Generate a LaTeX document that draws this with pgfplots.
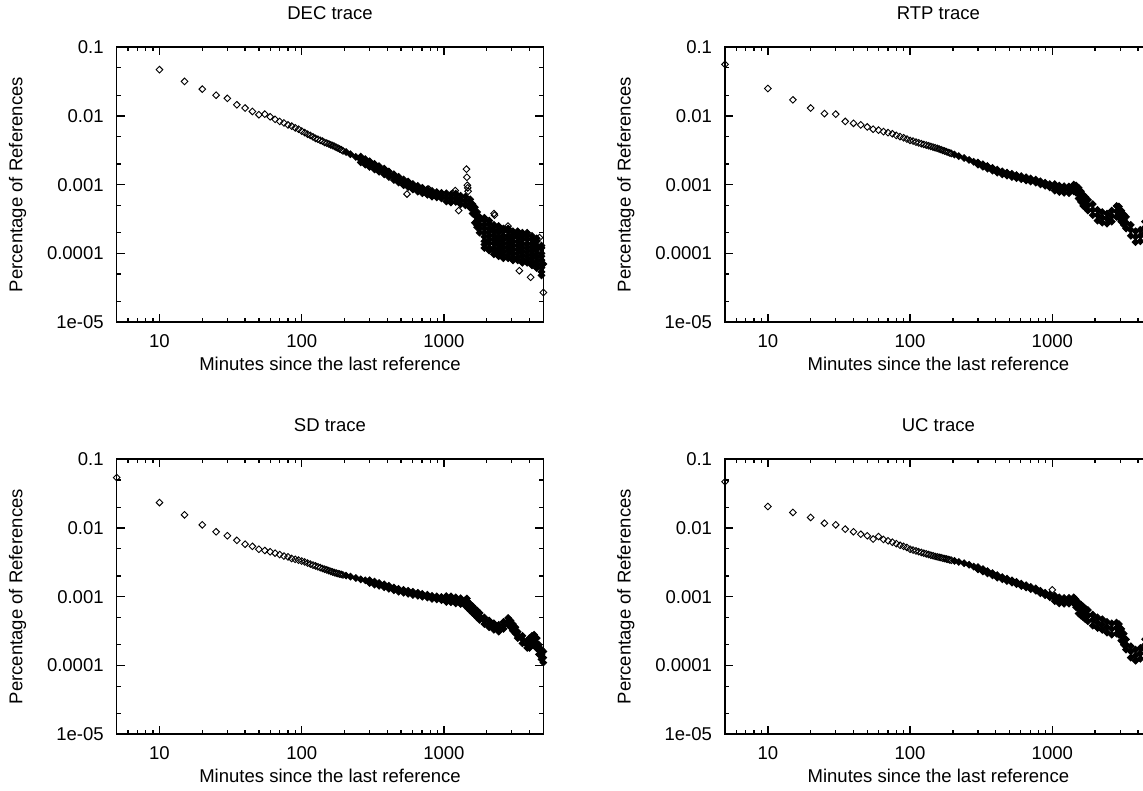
\documentclass[border=0pt]{standalone}
\usepackage{fontspec}
\setmainfont{Liberation Sans}
\usepackage{pgfplots}
\pgfplotsset{compat=1.18}
\pgfplotsset{
 refmarks/.style={only marks, mark=square, mark size=1.27pt, mark options={rotate=45, line width=0.5pt, black}, black},
 refdense/.style={only marks, mark=square*, mark size=1.27pt, mark options={rotate=45, line width=0.5pt, draw=black, fill=black}, black},
 refaxis/.style={
 scale only axis, width=230.4pt, height=148.5pt, anchor=north west,
 xmin=5, xmax=5000, ymin=1e-5, ymax=0.1,
 clip=false,
 axis line style={line width=0.8pt},
 tick style={line width=0.7pt, black},
 tick align=inside, major tick length=4.3pt, minor tick length=2.2pt,
 xtick={10,100,1000}, xticklabels={10,100,1000},
 minor xtick={6,7,8,9,20,30,40,50,60,70,80,90,200,300,400,500,600,700,800,900,2000,3000,4000},
 ytick={1e-5,1e-4,1e-3,1e-2,1e-1}, yticklabels={1e-05,0.0001,0.001,0.01,0.1},
 minor ytick={2e-5,5e-5,2e-4,5e-4,2e-3,5e-3,2e-2,5e-2},
 xticklabel style={yshift=-3.2pt},
 yticklabel style={xshift=-3.5pt},
 title style={yshift=5.5pt},
 xlabel={Minutes since the last reference},
 ylabel={Percentage of References},
 xlabel style={yshift=2pt},
 ylabel style={yshift=4.4pt},
 }}
\begin{document}
\begin{tikzpicture}[trim left=0pt, trim right=617.2pt]
\path (0pt,0pt) rectangle (617.2pt,-424.4pt);
% ---------------- DEC ----------------
\begin{loglogaxis}[refaxis, at={(63.0pt,-23.2pt)}, title={DEC trace}]
\addplot[refmarks] table {
x y
10 0.047
15 0.0317
20 0.0245
25 0.0200
30 0.0180
35 0.0145
40 0.0130
45 0.0116
50 0.0104
55 0.0106
60 0.0097
65 0.0089
70 0.0083
75 0.0079
80 0.0074
85 0.0071
90 0.0067
95 0.0064
100 0.0060
105 0.0057
110 0.00542
115 0.0052
120 0.00494
125 0.0047
130 0.00457
135 0.0044
140 0.00428
145 0.0041
150 0.00402
155 0.0039
160 0.0038
165 0.0037
170 0.0036
175 0.00349
180 0.0034
185 0.0033
190 0.00321
195 0.0031
};
\addplot[refdense] table {
x y
205 0.00298
220 0.00277
240 0.00253
260 0.00232
280 0.00214
300 0.00199
325 0.00183
350 0.00169
380 0.00155
410 0.00142
445 0.00129
480 0.00118
520 0.00108
560 0.00101
605 0.00093
655 0.00087
705 0.00082
765 0.00078
825 0.00074
890 0.00071
960 0.00069
1040 0.00065
1120 0.00063
1210 0.00064
1310 0.0006
1415 0.00058
1530 0.00053
1590 0.00044
1650 0.00036
1710 0.0003
1780 0.00026
1925 0.0002
2080 0.00018
2245 0.00016
2425 0.00015
2620 0.00014
2830 0.00014
3055 0.00013
3300 0.00013
3565 0.00012
3850 0.00012
4160 0.00011
4490 0.0001
4850 0.00008
5000 0.00007
};
\addplot[refdense] table {
x y
260 0.00255
280 0.00235
300 0.00219
325 0.00201
350 0.00186
380 0.00171
410 0.00156
445 0.00142
480 0.0013
520 0.00119
560 0.00111
605 0.00102
655 0.00096
705 0.0009
765 0.00086
825 0.00081
890 0.00078
960 0.00076
1040 0.00075
1120 0.00072
1210 0.00074
1310 0.00069
1415 0.00067
1530 0.00061
1590 0.00052
1650 0.00047
1710 0.0004
1780 0.00034
1925 0.00026
2080 0.00023
2245 0.00021
2425 0.0002
2620 0.00018
2830 0.00018
3055 0.00017
3300 0.00017
3565 0.00016
3850 0.00016
4160 0.00014
4490 0.00013
4850 0.0001
};
\addplot[refdense] table {
x y
260 0.00211
280 0.00195
300 0.00181
325 0.00166
350 0.00154
380 0.00141
410 0.00129
445 0.00117
480 0.00107
520 0.00098
560 0.00092
605 0.00085
655 0.00079
705 0.00075
765 0.00071
825 0.00067
890 0.00065
960 0.00063
1040 0.00057
1120 0.00055
1210 0.00056
1310 0.00052
1415 0.0005
1530 0.00046
1590 0.00038
1650 0.00028
1710 0.00024
1780 0.0002
1925 0.00015
2080 0.00014
2245 0.00012
2425 0.000115
2620 0.000108
2830 0.000108
3055 0.0001
3300 0.0001
3565 0.000092
3850 0.000092
4160 0.000085
4490 0.000077
4850 0.000062
};
\addplot[refdense] table {
x y
1710 0.00034
1780 0.0003
1925 0.00023
2080 0.000205
2245 0.000182
2425 0.000171
2620 0.00016
2830 0.00016
3055 0.000148
3300 0.000148
3565 0.000137
3850 0.000137
4160 0.000125
4490 0.000114
4850 0.000091
};
\addplot[refdense] table {
x y
1710 0.00026
1780 0.00023
1925 0.000175
2080 0.000158
2245 0.00014
2425 0.000132
2620 0.000123
2830 0.000123
3055 0.000114
3300 0.000114
3565 0.000105
3850 0.000105
4160 0.000096
4490 0.000088
4850 0.00007
};
\addplot[refdense] table {
x y
1925 0.0003
2080 0.00027
2245 0.00024
2425 0.00022
2620 0.00021
2830 0.00021
3055 0.00019
3300 0.00019
3565 0.00018
3850 0.00018
4160 0.00016
4490 0.00015
4850 0.00012
};
\addplot[refdense] table {
x y
1925 0.000135
2080 0.00012
2245 0.000108
2425 0.0001
2620 0.000095
2830 0.000095
3055 0.000088
3300 0.000088
3565 0.000081
3850 0.000081
4160 0.000074
4490 0.000068
4850 0.000054
};
\addplot[refdense] table {
x y
1925 0.00033
2080 0.0003
2245 0.00026
2425 0.00025
2620 0.00023
2830 0.00023
3055 0.00021
3300 0.00021
3565 0.0002
3850 0.0002
4160 0.00018
4490 0.000165
4850 0.00013
};
\addplot[refdense] table {
x y
1925 0.00012
2080 0.00011
2245 0.000097
2425 0.000091
2620 0.000085
2830 0.000085
3055 0.000079
3300 0.000079
3565 0.000073
3850 0.000073
4160 0.000067
4490 0.000061
4850 0.000048
};
\addplot[refmarks] table {
x y
550 0.00073
782 0.00086
1150 0.00075
1200 0.00082
1270 0.00042
1440 0.00168
1450 0.00128
1460 0.00098
1470 0.0009
1480 0.0008
2250 0.00038
2270 0.00036
2820 0.00025
3390 0.000056
4070 0.000045
4700 0.00017
5000 0.000027
};
\end{loglogaxis}
% ---------------- RTP ----------------
\begin{loglogaxis}[refaxis, at={(391.5pt,-23.2pt)}, title={RTP trace}]
\addplot[refmarks] table {
x y
5 0.056
10 0.025
15 0.0171
20 0.013
25 0.0108
30 0.0106
35 0.0083
40 0.0078
45 0.0074
50 0.0069
55 0.0064
60 0.0062
65 0.0059
70 0.0057
75 0.0055
80 0.0052
85 0.005
90 0.0048
95 0.0046
100 0.0044
105 0.0043
110 0.00415
115 0.00405
120 0.00394
125 0.00385
130 0.00376
135 0.00368
140 0.0036
145 0.00352
150 0.00345
155 0.00337
160 0.00329
165 0.00322
170 0.00315
175 0.00308
180 0.00302
185 0.00295
190 0.00289
195 0.00284
};
\addplot[refdense] table {
x y
205 0.00274
220 0.0026
240 0.00244
260 0.00229
280 0.00215
300 0.00204
325 0.0019
350 0.00179
380 0.00167
410 0.00157
445 0.00148
480 0.00142
520 0.00136
560 0.00131
605 0.00126
655 0.00121
705 0.00117
765 0.00112
825 0.00106
890 0.00101
960 0.00096
1040 0.00092
1120 0.00087
1210 0.00085
1310 0.00084
1415 0.0009
1470 0.00086
1530 0.00075
1590 0.00067
1650 0.00059
1710 0.00055
1780 0.0005
1925 0.00043
2080 0.00036
2245 0.00033
2425 0.00032
2620 0.00035
2830 0.00041
2940 0.0004
3055 0.00035
3180 0.00031
3300 0.00028
3565 0.00022
3850 0.000175
4160 0.00018
4490 0.00024
4850 0.00026
};
\addplot[refdense] table {
x y
300 0.0021
325 0.00198
350 0.00187
380 0.00175
410 0.00165
445 0.00156
480 0.0015
520 0.00144
560 0.00138
605 0.00133
655 0.00128
705 0.00123
765 0.00118
825 0.00112
890 0.00107
960 0.00102
1040 0.00102
1120 0.00097
1210 0.00095
1310 0.00094
1415 0.001
1470 0.00097
1530 0.0009
1590 0.0008
1650 0.00071
1710 0.00066
1780 0.0006
1925 0.00052
2080 0.00043
2245 0.0004
2425 0.00038
2620 0.00042
2830 0.00049
2940 0.00048
3055 0.00042
3180 0.00037
3300 0.00034
3565 0.00026
3850 0.00021
4160 0.00022
4490 0.00029
4850 0.00031
};
\addplot[refdense] table {
x y
300 0.00195
325 0.00182
350 0.00171
380 0.0016
410 0.0015
445 0.00141
480 0.00135
520 0.00129
560 0.00124
605 0.0012
655 0.00115
705 0.00111
765 0.00107
825 0.00101
890 0.00096
960 0.00091
1040 0.00082
1120 0.00078
1210 0.00076
1310 0.00075
1415 0.0008
1470 0.00076
1530 0.00063
1590 0.00056
1650 0.00049
1710 0.00046
1780 0.00042
1925 0.00036
2080 0.0003
2245 0.00028
2425 0.00027
2620 0.00029
2830 0.00034
2940 0.00033
3055 0.00029
3180 0.00026
3300 0.00023
3565 0.00018
3850 0.000146
4160 0.00015
4490 0.0002
4850 0.00022
};
\end{loglogaxis}
% ---------------- SD ----------------
\begin{loglogaxis}[refaxis, at={(63.0pt,-245.7pt)}, title={SD trace}]
\addplot[refmarks] table {
x y
5 0.054
10 0.0234
15 0.0155
20 0.0111
25 0.0088
30 0.0077
35 0.0066
40 0.0058
45 0.0054
50 0.0049
55 0.0047
60 0.0045
65 0.0043
70 0.0041
75 0.0039
80 0.0038
85 0.0036
90 0.0035
95 0.0034
100 0.0033
105 0.0032
110 0.00308
115 0.00298
120 0.00288
125 0.0028
130 0.00272
135 0.00264
140 0.00257
145 0.00251
150 0.00245
155 0.00239
160 0.00233
165 0.00229
170 0.00224
175 0.0022
180 0.00217
185 0.00214
190 0.00211
195 0.00207
};
\addplot[refdense] table {
x y
205 0.00203
220 0.00196
240 0.00187
260 0.00179
280 0.00173
300 0.00166
325 0.00158
350 0.00151
380 0.00144
410 0.00137
445 0.0013
480 0.00124
520 0.0012
560 0.00116
605 0.00112
655 0.00108
705 0.00105
765 0.00102
825 0.00098
890 0.00096
960 0.00094
1040 0.00093
1120 0.00092
1210 0.00089
1310 0.00086
1415 0.00082
1470 0.00076
1530 0.0007
1590 0.00065
1650 0.0006
1710 0.00056
1780 0.00052
1925 0.00045
2080 0.0004
2245 0.00037
2425 0.00035
2620 0.00038
2830 0.00044
2940 0.0004
3055 0.00036
3180 0.00032
3300 0.00028
3565 0.00024
3850 0.0002
4000 0.00021
4160 0.00023
4300 0.00024
4490 0.00021
4650 0.00017
4850 0.000145
5000 0.00013
};
\addplot[refdense] table {
x y
300 0.00174
325 0.00166
350 0.00158
380 0.00151
410 0.00144
445 0.00136
480 0.0013
520 0.00126
560 0.00122
605 0.00118
655 0.00114
705 0.0011
765 0.00107
825 0.00103
890 0.00101
960 0.00099
1040 0.00102
1120 0.00101
1210 0.00098
1310 0.00095
1415 0.0009
1450 0.00094
1470 0.00085
1530 0.00078
1590 0.00073
1650 0.00067
1710 0.00063
1780 0.00058
1925 0.0005
2080 0.00045
2245 0.00041
2425 0.00039
2620 0.00043
2830 0.00049
2940 0.00045
3055 0.0004
3180 0.00036
3300 0.00031
3565 0.00027
3850 0.00023
4000 0.00025
4160 0.00027
4300 0.00028
4490 0.00025
4650 0.0002
4850 0.00017
5000 0.00016
};
\addplot[refdense] table {
x y
300 0.00158
325 0.0015
350 0.00144
380 0.00137
410 0.0013
445 0.00124
480 0.00118
520 0.00114
560 0.0011
605 0.00106
655 0.00103
705 0.001
765 0.00097
825 0.00093
890 0.00091
960 0.00089
1040 0.00084
1120 0.00083
1210 0.0008
1310 0.00078
1415 0.00074
1470 0.00068
1530 0.00063
1590 0.00058
1650 0.00054
1710 0.0005
1780 0.00046
1925 0.0004
2080 0.00036
2245 0.00033
2425 0.00031
2620 0.00034
2830 0.00039
2940 0.00036
3055 0.00032
3180 0.00029
3300 0.00025
3565 0.00021
3850 0.00018
4000 0.00018
4160 0.0002
4300 0.0002
4490 0.000178
4650 0.000145
4850 0.000123
5000 0.00011
};
\end{loglogaxis}
% ---------------- UC ----------------
\begin{loglogaxis}[refaxis, at={(391.5pt,-245.7pt)}, title={UC trace}]
\addplot[refmarks] table {
x y
5 0.047
10 0.0205
15 0.0168
20 0.0142
25 0.0117
30 0.0111
35 0.0096
40 0.0088
45 0.0081
50 0.0077
55 0.0069
60 0.0075
65 0.0068
70 0.0065
75 0.0062
80 0.0059
85 0.0056
90 0.0054
95 0.0052
100 0.0049
105 0.00476
110 0.00463
115 0.00451
120 0.0044
125 0.0043
130 0.0042
135 0.00411
140 0.00402
145 0.00394
150 0.00386
155 0.0038
160 0.00374
165 0.00369
170 0.00363
175 0.00358
180 0.00353
185 0.00349
190 0.00344
195 0.00339
};
\addplot[refdense] table {
x y
205 0.00332
220 0.0032
240 0.00307
260 0.00292
280 0.00274
300 0.00259
325 0.00242
350 0.00227
380 0.00212
410 0.00198
445 0.00186
480 0.00176
520 0.00166
560 0.00158
605 0.00149
655 0.00141
705 0.00134
765 0.00127
825 0.00117
890 0.00109
960 0.00102
1040 0.00095
1120 0.00089
1210 0.00087
1310 0.00087
1415 0.00088
1455 0.00092
1470 0.00078
1530 0.00068
1590 0.00064
1650 0.0006
1710 0.00056
1780 0.00053
1925 0.00046
2080 0.00042
2245 0.00039
2425 0.00036
2620 0.00034
2830 0.00035
2940 0.00033
3055 0.00028
3180 0.00024
3300 0.0002
3565 0.00016
3850 0.00014
4160 0.00015
4490 0.0002
4850 0.00022
};
\addplot[refdense] table {
x y
300 0.0027
325 0.00252
350 0.00236
380 0.0022
410 0.00206
445 0.00193
480 0.00183
520 0.00173
560 0.00164
605 0.00155
655 0.00147
705 0.00139
765 0.00132
825 0.00122
890 0.00114
960 0.00107
1040 0.00104
1120 0.00098
1210 0.00096
1310 0.00096
1415 0.00098
1470 0.00088
1530 0.00082
1590 0.00077
1650 0.00072
1710 0.00067
1780 0.00064
1925 0.00055
2080 0.0005
2245 0.00047
2425 0.00043
2620 0.00041
2830 0.00042
2940 0.0004
3055 0.00034
3180 0.00029
3300 0.00024
3565 0.00019
3850 0.00017
4160 0.00018
4490 0.00024
4850 0.00026
};
\addplot[refdense] table {
x y
300 0.00249
325 0.00233
350 0.00218
380 0.00204
410 0.0019
445 0.00179
480 0.00169
520 0.0016
560 0.00152
605 0.00143
655 0.00136
705 0.00129
765 0.00122
825 0.00112
890 0.00105
960 0.00098
1040 0.00086
1120 0.0008
1210 0.00079
1310 0.00079
1415 0.0008
1470 0.0007
1530 0.00057
1590 0.00053
1650 0.0005
1710 0.00047
1780 0.00044
1925 0.00038
2080 0.00035
2245 0.00033
2425 0.0003
2620 0.00028
2830 0.00029
2940 0.00028
3055 0.00023
3180 0.0002
3300 0.00017
3565 0.00013
3850 0.000117
4160 0.000125
4490 0.00017
4850 0.00018
};
\addplot[refmarks] table {
x y
1000 0.00126
2900 0.00037
};
\end{loglogaxis}
\end{tikzpicture}
\end{document}
